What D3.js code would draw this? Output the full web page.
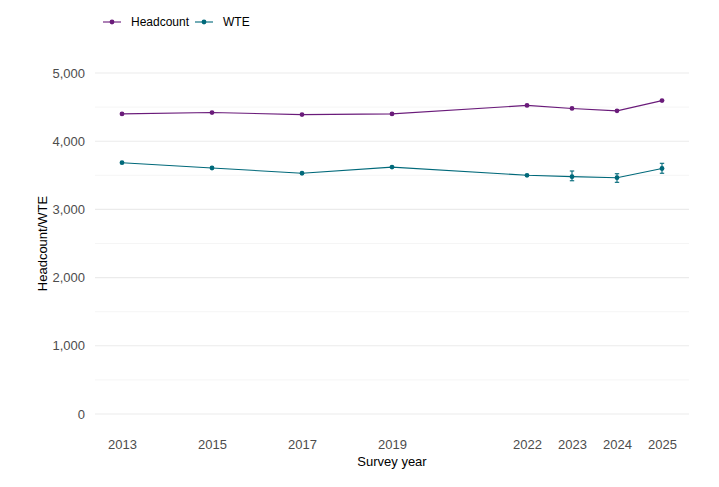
<!DOCTYPE html>
<html>
<head>
<meta charset="utf-8">
<script src="https://cdn.jsdelivr.net/npm/d3@7"></script>
<style>
	body { margin: 0; background: #fff; }
	text { font-family: "Liberation Sans", Arial, sans-serif; }
</style>
</head>
<body>
<div id="app"></div>
<script>
const years = [2013, 2015, 2017, 2019, 2022, 2023, 2024, 2025];
const headcount = [4400, 4420, 4390, 4400, 4525, 4480, 4445, 4595];
const wte = [3685, 3607, 3530, 3620, 3500, 3480, 3465, 3600];
// error bars only reported for the later surveys
const wteLow = [null, null, null, null, null, 3420, 3397, 3530];
const wteHigh = [null, null, null, null, null, 3563, 3523, 3676];
const yTicks = [0, 1000, 2000, 3000, 4000, 5000];
const yMinor = [500, 1500, 2500, 3500, 4500];

const series = [
	{ name: 'Headcount', values: headcount, color: '#6a1b7a' },
	{ name: 'WTE', values: wte, color: '#00697a' }
];

const width = 719, height = 487;

const x = d3.scaleLinear()
	.domain([2013 - 0.6, 2025 + 0.6])
	.range([95, 689]);

const y = d3.scaleLinear()
	.domain([0, 5000])
	.range([414, 73]);

const svg = d3.select('#app').append('svg')
	.attr('width', width)
	.attr('height', height);

// grid
svg.append('g').selectAll('line')
	.data(yMinor)
	.enter().append('line')
	.attr('x1', x.range()[0]).attr('x2', x.range()[1])
	.attr('y1', d => y(d)).attr('y2', d => y(d))
	.attr('stroke', '#f2f2f2')
	.attr('stroke-width', 0.8);

svg.append('g').selectAll('line')
	.data(yTicks)
	.enter().append('line')
	.attr('x1', x.range()[0]).attr('x2', x.range()[1])
	.attr('y1', d => y(d)).attr('y2', d => y(d))
	.attr('stroke', '#ebebeb')
	.attr('stroke-width', 1.1);

// axes (labels only, ggplot minimal style)
const yAxis = d3.axisLeft(y)
	.tickValues(yTicks)
	.tickSize(0)
	.tickPadding(8)
	.tickFormat(d3.format(','));
svg.append('g')
	.attr('transform', `translate(${ x.range()[0] - 2 },0)`)
	.call(yAxis)
	.call(g => g.select('.domain').remove())
	.selectAll('text')
	.attr('fill', '#4d4d4d')
	.style('font-size', '13px');

const xAxis = d3.axisBottom(x)
	.tickValues(years)
	.tickSize(0)
	.tickPadding(8)
	.tickFormat(d3.format('d'));
svg.append('g')
	.attr('transform', `translate(0,432)`)
	.call(xAxis)
	.call(g => g.select('.domain').remove())
	.selectAll('text')
	.attr('fill', '#4d4d4d')
	.style('font-size', '13px');

svg.append('text')
	.attr('x', (x.range()[0] + x.range()[1]) / 2)
	.attr('y', 466)
	.attr('text-anchor', 'middle')
	.style('font-size', '13px')
	.attr('fill', '#000')
	.text('Survey year');

svg.append('text')
	.attr('transform', `translate(47,${ (y(0) + y(5000)) / 2 }) rotate(-90)`)
	.attr('text-anchor', 'middle')
	.style('font-size', '13px')
	.attr('fill', '#000')
	.text('Headcount/WTE');

// lines + points
const line = d3.line()
	.x((d, i) => x(years[i]))
	.y(d => y(d));

series.forEach(s => {
	svg.append('path')
		.datum(s.values)
		.attr('d', line)
		.attr('fill', 'none')
		.attr('stroke', s.color)
		.attr('stroke-width', 1.1);

	svg.append('g').selectAll('circle')
		.data(s.values)
		.enter().append('circle')
		.attr('cx', (d, i) => x(years[i]))
		.attr('cy', d => y(d))
		.attr('r', 2.4)
		.attr('fill', s.color);
});

// WTE error bars
const errs = years.map((yr, i) => ({ yr, lo: wteLow[i], hi: wteHigh[i] }))
	.filter(d => d.lo !== null);
const eb = svg.append('g')
	.attr('stroke', series[1].color)
	.attr('stroke-width', 1.1);
errs.forEach(d => {
	const cx = x(d.yr);
	eb.append('line').attr('x1', cx).attr('x2', cx).attr('y1', y(d.lo)).attr('y2', y(d.hi));
	eb.append('line').attr('x1', cx - 2.2).attr('x2', cx + 2.2).attr('y1', y(d.lo)).attr('y2', y(d.lo));
	eb.append('line').attr('x1', cx - 2.2).attr('x2', cx + 2.2).attr('y1', y(d.hi)).attr('y2', y(d.hi));
});

// legend
const legend = svg.append('g').attr('transform', 'translate(103,22)');
series.forEach((s, i) => {
	const g = legend.append('g').attr('transform', `translate(${ i === 0 ? 0 : 92 },0)`);
	g.append('line').attr('x1', 0).attr('x2', 18).attr('y1', 0).attr('y2', 0)
		.attr('stroke', s.color).attr('stroke-width', 1.1);
	g.append('circle').attr('cx', 9).attr('cy', 0).attr('r', 2.4).attr('fill', s.color);
	g.append('text').attr('x', 28).attr('y', 4)
		.style('font-size', '12px')
		.attr('fill', '#000')
		.text(s.name);
});
</script>
</body>
</html>
